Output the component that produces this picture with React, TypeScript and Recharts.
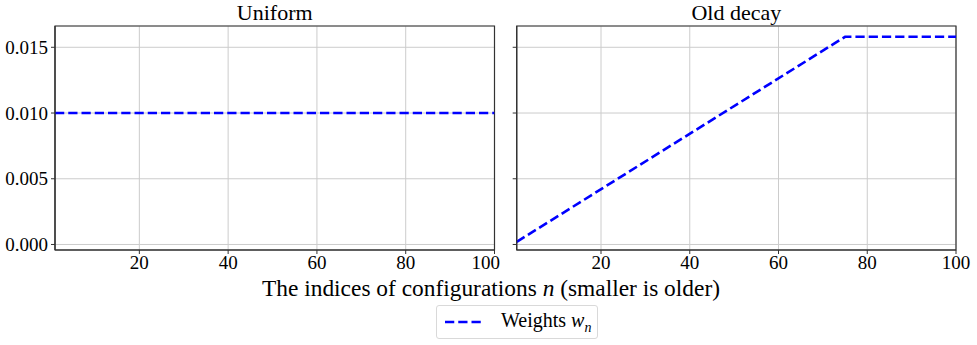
import {
  LineChart,
  Line,
  XAxis,
  YAxis,
  CartesianGrid,
  ReferenceArea,
} from "recharts";

const FONT = "Liberation Serif, Times New Roman, Times, serif";

// index n and weight w for each panel
const uniformN = [1, 100];
const uniformW = [0.01, 0.01];
const decayN = [1, 75, 100];
const decayW = [0.0002, 0.0158, 0.0158];

const xTicks = [20, 40, 60, 80, 100];
const yTicks = [0, 0.005, 0.01, 0.015];
const xDomain: [number, number] = [1, 100];
const yDomain: [number, number] = [-0.00042, 0.01662];

const uniformData = uniformN.map((n, i) => ({ n, w: uniformW[i] }));
const decayData = decayN.map((n, i) => ({ n, w: decayW[i] }));

const tickStyle = { fontSize: 19, fontFamily: FONT, fill: "#000" };

function Panel({
  data,
  showLabels,
  width,
  yWidth,
  rightMargin,
}: {
  data: { n: number; w: number }[];
  showLabels: boolean;
  width: number;
  yWidth: number;
  rightMargin: number;
}) {
  return (
    <LineChart
      width={width}
      height={345}
      data={data}
      margin={{ top: 26, right: rightMargin, left: 0, bottom: 65 }}
    >
      <CartesianGrid stroke="#cccccc" strokeWidth={1} />
      <XAxis
        dataKey="n"
        type="number"
        domain={xDomain}
        ticks={xTicks}
        height={30}
        tick={tickStyle}
        tickSize={4}
        tickMargin={2}
        axisLine={{ stroke: "#333", strokeWidth: 1.2 }}
        tickLine={{ stroke: "#333" }}
        allowDataOverflow
      />
      <YAxis
        type="number"
        domain={yDomain}
        ticks={yTicks}
        width={yWidth}
        tick={tickStyle}
        tickSize={4}
        tickMargin={3}
        tickFormatter={(v: number) => (showLabels ? v.toFixed(3) : "")}
        axisLine={{ stroke: "#333", strokeWidth: 1.2 }}
        tickLine={{ stroke: "#333" }}
        allowDataOverflow
      />
      <ReferenceArea
        x1={xDomain[0]}
        x2={xDomain[1]}
        y1={yDomain[0]}
        y2={yDomain[1]}
        fill="none"
        stroke="#333"
        strokeWidth={1.2}
        ifOverflow="visible"
      />
      <Line
        dataKey="w"
        type="linear"
        stroke="#0000ff"
        strokeWidth={2.6}
        strokeDasharray="9.25 4"
        dot={false}
        isAnimationActive={false}
      />
    </LineChart>
  );
}

export default function App() {
  const title = {
    position: "absolute" as const,
    top: 0,
    fontFamily: FONT,
    fontSize: 22,
    lineHeight: "26px",
    textAlign: "center" as const,
  };
  return (
    <div
      style={{
        position: "absolute",
        left: 0,
        top: 0,
        width: 977,
        height: 345,
        background: "#fff",
      }}
    >
      <div style={{ position: "absolute", left: 0, top: 0 }}>
        <Panel
          data={uniformData}
          showLabels
          width={500}
          yWidth={55}
          rightMargin={5.5}
        />
      </div>
      <div style={{ position: "absolute", left: 500, top: 0 }}>
        <Panel
          data={decayData}
          showLabels={false}
          width={477}
          yWidth={16.7}
          rightMargin={21}
        />
      </div>
      <div style={{ ...title, left: 55, width: 439.5 }}>Uniform</div>
      <div style={{ ...title, left: 516.7, width: 439.3 }}>Old decay</div>
      <div
        style={{
          position: "absolute",
          left: 0,
          width: 982,
          top: 274,
          fontFamily: FONT,
          fontSize: 23.4,
          lineHeight: "28px",
          textAlign: "center",
        }}
      >
        The indices of configurations <i>n</i> (smaller is older)
      </div>
      <div
        style={{
          position: "absolute",
          left: 436,
          top: 305,
          width: 160,
          height: 32,
          border: "1px solid #d9d9d9",
          borderRadius: 3,
          display: "flex",
          alignItems: "center",
          fontFamily: FONT,
          fontSize: 20,
        }}
      >
        <svg width={58} height={20} style={{ marginLeft: 6 }}>
          <line
            x1={2}
            y1={10}
            x2={38}
            y2={10}
            stroke="#0000ff"
            strokeWidth={2.6}
            strokeDasharray="9.25 4"
          />
        </svg>
        <span>
          Weights <i>w</i>
          <sub style={{ fontSize: 14, fontStyle: "italic" }}>n</sub>
        </span>
      </div>
    </div>
  );
}
